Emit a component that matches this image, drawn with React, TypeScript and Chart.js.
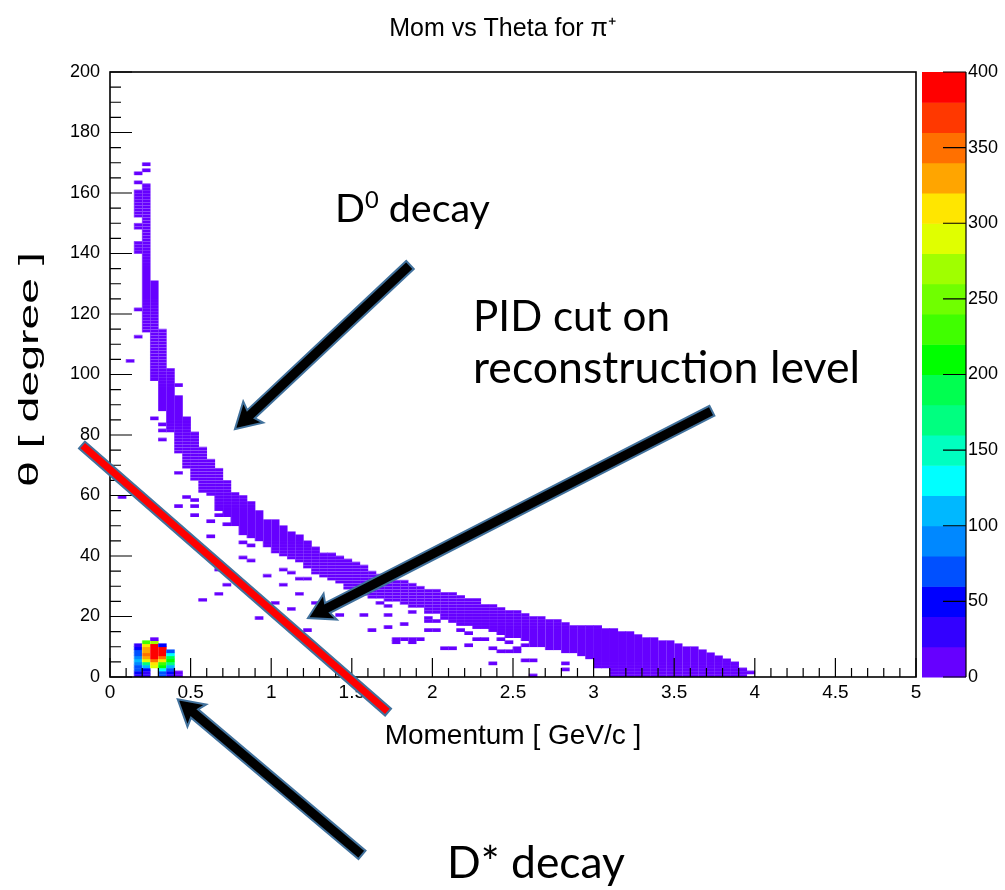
import React, { useEffect, useRef } from "react";
import { Chart, registerables } from "chart.js";

Chart.register(...registerables);

// ---------- text ----------
const chartTitle = "Mom vs Theta for π⁺";
const xTitle = "Momentum [ GeV/c ]";
const yTitle = "θ [ degree ]";

// ---------- axes ----------
const momentumTicks = [0, 0.5, 1, 1.5, 2, 2.5, 3, 3.5, 4, 4.5, 5];
const momentumTickLabels = ["0", "0.5", "1", "1.5", "2", "2.5", "3", "3.5", "4", "4.5", "5"];
const thetaTicks = [0, 20, 40, 60, 80, 100, 120, 140, 160, 180, 200];
const thetaTickLabels = ["0", "20", "40", "60", "80", "100", "120", "140", "160", "180", "200"];
const countTicks = [0, 50, 100, 150, 200, 250, 300, 350, 400];
const countTickLabels = ["0", "50", "100", "150", "200", "250", "300", "350", "400"];
const momentumBinWidth = 0.05;
const thetaBinWidth = 1;

// ---------- colour palette (contour levels of the z axis) ----------
const contourLevels = [0, 20, 40, 60, 80, 100, 120, 140, 160, 180, 200, 220, 240, 260, 280, 300, 320, 340, 360, 380, 400];
const palette = [
  "#6600ff", "#3300ff", "#0000ff", "#0050ff", "#0088ff", "#00b8ff", "#00ffff", "#00ffc0", "#00ff80", "#00ff50",
  "#00ff00", "#40ff00", "#70ff00", "#a0ff00", "#e0ff00", "#ffe600", "#ffa500", "#ff7000", "#ff3800", "#ff0000",
];

// ---------- main D0 band: per momentum bin, filled theta range ----------
const bandP = [
  0.175, 0.175, 0.175, 0.225, 0.275, 0.325, 0.375, 0.425, 0.475, 0.525,
  0.575, 0.625, 0.675, 0.725, 0.775, 0.825, 0.875, 0.925, 0.975, 1.025,
  1.075, 1.125, 1.175, 1.225, 1.275, 1.325, 1.375, 1.425, 1.475, 1.525,
  1.575, 1.625, 1.675, 1.725, 1.775, 1.825, 1.875, 1.925, 1.975, 2.025,
  2.075, 2.125, 2.175, 2.225, 2.275, 2.325, 2.375, 2.425, 2.475, 2.525,
  2.575, 2.625, 2.675, 2.725, 2.775, 2.825, 2.875, 2.925, 2.975, 3.025,
  3.075, 3.125, 3.175, 3.225, 3.275, 3.325, 3.375, 3.425, 3.475, 3.525,
  3.575, 3.625, 3.675, 3.725, 3.775, 3.825, 3.875, 3.925,
];
const bandThetaLow = [
  152, 148, 140, 114, 98, 88, 81, 74, 69, 65,
  61, 60, 55, 53, 50, 47, 46, 45, 43, 41,
  40, 39, 38, 36, 34, 33, 32, 31, 29, 27,
  27, 26, 26, 25, 25, 24, 23, 23, 21, 21,
  19, 18, 17, 17, 16, 16, 15, 14, 13, 13,
  12, 10, 10, 9, 9, 8, 8, 7, 6, 3,
  3, 0, 0, 0, 0, 0, 0, 0, 0, 0,
  0, 0, 0, 0, 0, 0, 0, 0,
];
const bandThetaHigh = [
  161, 150, 144, 163, 131, 115, 102, 93, 86, 81,
  76, 72, 69, 65, 61, 60, 58, 55, 52, 52,
  50, 48, 47, 45, 43, 41, 41, 40, 39, 38,
  37, 35, 34, 33, 32, 32, 31, 30, 29, 29,
  28, 28, 27, 26, 26, 24, 24, 23, 22, 22,
  21, 20, 20, 19, 19, 18, 17, 17, 17, 17,
  16, 16, 15, 15, 14, 13, 13, 12, 12, 11,
  10, 10, 9, 8, 7, 6, 5, 3,
];

// ---------- isolated single cells (PID-cut background) ----------
const strayP = [
  0.125, 0.175, 0.175, 0.225, 0.225, 0.175, 0.175, 0.275, 0.325, 0.325,
  0.325, 0.425, 0.425, 0.075, 0.475, 0.525, 0.425, 0.525, 0.525, 0.625,
  0.675, 0.725, 0.625, 0.825, 0.875, 0.825, 0.875, 0.675, 1.075, 1.125,
  0.975, 1.175, 1.225, 0.725, 1.075, 0.675, 1.175, 0.575, 1.025, 1.125,
  1.275, 1.425, 1.575, 1.725, 1.675, 0.925, 1.225, 1.625, 1.725, 1.775,
  1.775, 1.825, 1.875, 1.875, 1.925, 1.825, 1.875, 1.975, 1.975, 2.025,
  1.975, 2.075, 2.175, 2.225, 2.275, 2.325, 2.425, 2.475, 2.475, 2.525,
  2.525, 2.575, 2.375, 2.625, 2.625, 2.825, 2.825, 2.225, 2.375, 2.425,
  2.575, 1.725, 2.025, 2.125, 3.975,
];
const strayTheta = [
  104, 166, 163, 169, 167, 121, 112, 85, 83, 81,
  78, 96, 67, 59, 59, 58, 56, 56, 53, 51,
  53, 50, 46, 44, 43, 39, 38, 35, 35, 34,
  33, 32, 32, 30, 30, 27, 27, 25, 24, 22,
  24, 20, 20, 20, 24, 19, 15, 15, 16, 11,
  12, 12, 11, 12, 12, 17, 21, 19, 18, 18,
  15, 9, 15, 10, 12, 12, 12, 11, 8, 8,
  9, 10, 4, 5, 0, 4, 2, 14, 9, 8,
  5, 23, 15, 9, 1,
];

// ---------- D* cluster at low momentum (entries per cell) ----------
const clusterP = [
  0.175, 0.175, 0.175, 0.175, 0.175, 0.175, 0.175, 0.175, 0.175, 0.175, 0.175,
  0.225, 0.225, 0.225, 0.225, 0.225, 0.225, 0.225, 0.225, 0.225, 0.225, 0.225, 0.225,
  0.275, 0.275, 0.275, 0.275, 0.275, 0.275, 0.275, 0.275, 0.275, 0.275,
  0.325, 0.325, 0.325, 0.325, 0.325, 0.325, 0.325, 0.325, 0.325, 0.325, 0.325,
  0.375, 0.375, 0.375, 0.375, 0.375, 0.375, 0.375, 0.375, 0.375,
  0.425, 0.425,
];
const clusterTheta = [
  0, 1, 2, 3, 4, 5, 6, 7, 8, 9, 10,
  0, 1, 2, 3, 4, 5, 6, 7, 8, 9, 10, 11,
  3, 4, 5, 6, 7, 8, 9, 10, 11, 12,
  0, 1, 2, 3, 4, 5, 6, 7, 8, 9, 10,
  0, 1, 2, 3, 4, 5, 6, 7, 8,
  0, 1,
];
const clusterCount = [
  30, 55, 65, 70, 90, 100, 90, 75, 65, 55, 25,
  25, 25, 45, 110, 170, 290, 330, 345, 335, 325, 300, 220,
  280, 310, 340, 385, 390, 395, 390, 385, 260, 15,
  60, 75, 135, 200, 230, 305, 345, 385, 395, 385, 55,
  20, 40, 70, 100, 160, 210, 180, 130, 60,
  15, 10,
];

// ---------- slide annotations, in data coordinates (momentum, theta) ----------
const redCutLine = { p1: -0.174, t1: 76.7, p2: 1.725, t2: -11.6 };
const arrowD0 = { p1: 1.861, t1: 136.2, p2: 0.775, t2: 81.9 };
const arrowPID = { p1: 3.734, t1: 88.0, p2: 1.228, t2: 19.5 };
const arrowDStar = { p1: 1.563, t1: -58.8, p2: 0.42, t2: -7.4 };
const noteD0 = { p1: 1.396, p2: 2.357, t: 150.4 };
const notePID1 = { text: "PID cut on", p1: 2.252, p2: 3.474, t: 114.4 };
const notePID2 = { text: "reconstruction level", p1: 2.252, p2: 4.653, t: 97.2 };
const noteDStar = { text: "D* decay", p1: 2.091, p2: 3.195, t: -66.4 };

const rootFont = "'Liberation Sans', Arial, sans-serif";
const noteFont = "Lato, 'Open Sans', sans-serif";

function colorFor(count: number) {
  let idx = 0;
  for (let i = 0; i < palette.length; i++) if (count >= contourLevels[i]) idx = i;
  return palette[idx];
}

// cell texture: ROOT draws each histogram cell with a faint lighter seam
const patternCache: Record<string, CanvasPattern | null> = {};
function cellPattern(chart: any, color: string) {
  const xs = chart.scales.x, ys = chart.scales.y;
  if (!xs || !ys || !chart.chartArea) return color;
  const cw = xs.getPixelForValue(momentumBinWidth) - xs.getPixelForValue(0);
  const ch = ys.getPixelForValue(0) - ys.getPixelForValue(thetaBinWidth);
  const key = color + cw.toFixed(3) + ch.toFixed(3);
  if (patternCache[key] === undefined) {
    const tile = document.createElement("canvas");
    tile.width = 16;
    tile.height = 12;
    const t = tile.getContext("2d")!;
    t.fillStyle = color;
    t.fillRect(0, 0, 16, 12);
    t.fillStyle = "rgba(255,255,255,0.28)";
    t.fillRect(0, 0, 16, 2);
    t.fillStyle = "rgba(255,255,255,0.22)";
    t.fillRect(0, 2, 1, 10);
    const pat = chart.ctx.createPattern(tile, "repeat");
    if (pat) {
      const m = new DOMMatrix()
        .translate(xs.getPixelForValue(0), ys.getPixelForValue(0))
        .scale(cw / 16, ch / 12);
      pat.setTransform(m);
    }
    patternCache[key] = pat;
  }
  return patternCache[key] || color;
}

function drawArrow(ctx: CanvasRenderingContext2D, x1: number, y1: number, x2: number, y2: number) {
  const ang = Math.atan2(y2 - y1, x2 - x1);
  const len = Math.hypot(x2 - x1, y2 - y1);
  const shaft = 11, headW = 29, headL = 22;
  ctx.save();
  ctx.translate(x1, y1);
  ctx.rotate(ang);
  ctx.beginPath();
  ctx.moveTo(0, -shaft / 2);
  ctx.lineTo(len - headL, -shaft / 2);
  ctx.lineTo(len - headL - 3, -headW / 2);
  ctx.lineTo(len, 0);
  ctx.lineTo(len - headL - 3, headW / 2);
  ctx.lineTo(len - headL, shaft / 2);
  ctx.lineTo(0, shaft / 2);
  ctx.closePath();
  ctx.fillStyle = "#000";
  ctx.fill();
  ctx.lineWidth = 2;
  ctx.strokeStyle = "#41719c";
  ctx.lineJoin = "miter";
  ctx.stroke();
  ctx.restore();
}

function drawThickLine(ctx: CanvasRenderingContext2D, x1: number, y1: number, x2: number, y2: number) {
  const ang = Math.atan2(y2 - y1, x2 - x1);
  const len = Math.hypot(x2 - x1, y2 - y1);
  const w = 9;
  ctx.save();
  ctx.translate(x1, y1);
  ctx.rotate(ang);
  ctx.beginPath();
  ctx.rect(0, -w / 2, len, w);
  ctx.fillStyle = "#ff0000";
  ctx.fill();
  ctx.lineWidth = 2;
  ctx.strokeStyle = "#41719c";
  ctx.stroke();
  ctx.restore();
}

function fitText(ctx: CanvasRenderingContext2D, text: string, width: number, family: string) {
  ctx.font = `100px ${family}`;
  const w = ctx.measureText(text).width;
  return (100 * width) / w;
}

const decorPlugin = {
  id: "rootDecor",
  afterDatasetsDraw(chart: any) {
    const { ctx, chartArea: a, scales } = chart;
    const xs = scales.x, ys = scales.y, zs = scales.z;
    ctx.save();
    // colour bar
    const barL = a.right + 6, barR = a.right + 50;
    for (let i = 0; i < palette.length; i++) {
      const yA = zs.getPixelForValue(contourLevels[i]);
      const yB = zs.getPixelForValue(contourLevels[i + 1]);
      ctx.fillStyle = palette[i];
      ctx.fillRect(barL, yB, barR - barL, yA - yB + 0.5);
    }
    ctx.strokeStyle = "#000";
    ctx.lineWidth = 1.2;
    ctx.beginPath();
    ctx.moveTo(barR, a.top);
    ctx.lineTo(barR, a.bottom);
    for (const v of countTicks) {
      const y = zs.getPixelForValue(v);
      ctx.moveTo(barR - 23, y);
      ctx.lineTo(barR, y);
    }
    ctx.stroke();
    // frame
    ctx.lineWidth = 1.6;
    ctx.strokeRect(a.left, a.top, a.right - a.left, a.bottom - a.top);
    // axis ticks (inward)
    ctx.lineWidth = 1.2;
    ctx.beginPath();
    for (let k = 0; k <= 50; k++) {
      const x = xs.getPixelForValue(k / 10);
      const major = k % 5 === 0;
      ctx.moveTo(x, a.bottom);
      ctx.lineTo(x, a.bottom - (major ? 19 : 9));
    }
    for (let k = 0; k <= 40; k++) {
      const y = ys.getPixelForValue(k * 5);
      const major = k % 4 === 0;
      ctx.moveTo(a.left, y);
      ctx.lineTo(a.left + (major ? 22 : 11), y);
    }
    ctx.stroke();
    // y axis title
    ctx.save();
    ctx.translate(30, (a.top + a.bottom) / 2 - 5);
    ctx.rotate(-Math.PI / 2);
    ctx.font = `28px ${rootFont}`;
    const tw = ctx.measureText(yTitle).width;
    ctx.scale(235 / tw, 1);
    ctx.fillStyle = "#000";
    ctx.textAlign = "center";
    ctx.textBaseline = "middle";
    ctx.fillText(yTitle, 0, 0);
    ctx.restore();
    ctx.restore();
  },
  afterDraw(chart: any) {
    const { ctx, scales } = chart;
    const xs = scales.x, ys = scales.y;
    const X = (p: number) => xs.getPixelForValue(p);
    const Y = (t: number) => ys.getPixelForValue(t);
    ctx.save();
    drawThickLine(ctx, X(redCutLine.p1), Y(redCutLine.t1), X(redCutLine.p2), Y(redCutLine.t2));
    for (const ar of [arrowD0, arrowPID, arrowDStar]) drawArrow(ctx, X(ar.p1), Y(ar.t1), X(ar.p2), Y(ar.t2));
    ctx.fillStyle = "#000";
    ctx.textBaseline = "alphabetic";
    ctx.textAlign = "left";
    // D0 decay
    {
      const width = X(noteD0.p2) - X(noteD0.p1);
      ctx.font = `100px ${noteFont}`;
      const wD = ctx.measureText("D").width;
      const wRest = ctx.measureText(" decay").width;
      ctx.font = `60px ${noteFont}`;
      const w0 = ctx.measureText("0").width;
      const s = (100 * width) / (wD + w0 + wRest);
      let x = X(noteD0.p1);
      const y = Y(noteD0.t);
      ctx.font = `${s}px ${noteFont}`;
      ctx.fillText("D", x, y);
      x += ctx.measureText("D").width;
      ctx.font = `${s * 0.6}px ${noteFont}`;
      ctx.fillText("0", x, y - s * 0.36);
      x += ctx.measureText("0").width;
      ctx.font = `${s}px ${noteFont}`;
      ctx.fillText(" decay", x, y);
    }
    for (const n of [notePID1, notePID2, noteDStar]) {
      const size = fitText(ctx, n.text, X(n.p2) - X(n.p1), noteFont);
      ctx.font = `${size}px ${noteFont}`;
      ctx.fillText(n.text, X(n.p1), Y(n.t));
    }
    ctx.restore();
  },
};

export default function App() {
  const ref = useRef<HTMLCanvasElement | null>(null);
  useEffect(() => {
    if (!ref.current) return;
    const cellStyle = {
      type: "bar" as const,
      grouped: false,
      barPercentage: 1,
      categoryPercentage: 1,
      borderWidth: 0,
      borderSkipped: false,
    };
    const chart = new Chart(ref.current, {
      type: "bar",
      data: {
        datasets: [
          {
            ...cellStyle,
            label: "D0 band",
            data: bandP.map((p, i) => ({ x: p, y: [bandThetaLow[i], bandThetaHigh[i]] })) as any,
            backgroundColor: (c: any) => cellPattern(c.chart, palette[0]),
          },
          {
            ...cellStyle,
            label: "isolated",
            data: strayP.map((p, i) => ({ x: p, y: [strayTheta[i], strayTheta[i] + thetaBinWidth] })) as any,
            backgroundColor: (c: any) => cellPattern(c.chart, palette[0]),
          },
          {
            ...cellStyle,
            label: "D* cluster",
            data: clusterP.map((p, i) => ({ x: p, y: [clusterTheta[i], clusterTheta[i] + thetaBinWidth], c: clusterCount[i] })) as any,
            backgroundColor: (c: any) => cellPattern(c.chart, colorFor(c.raw ? c.raw.c : 0)),
          },
        ],
      },
      options: {
        responsive: false,
        animation: false,
        events: [],
        layout: { padding: { left: 0, right: 0, top: 0, bottom: 133 } },
        plugins: {
          legend: { display: false },
          tooltip: { enabled: false },
          title: {
            display: true,
            text: chartTitle,
            color: "#000",
            font: { family: rootFont, size: 25, weight: "normal" },
            padding: { top: 14, bottom: 28 },
          },
        },
        scales: {
          x: {
            type: "linear",
            min: 0,
            max: 5,
            offset: false,
            afterBuildTicks: (s: any) => { s.ticks = momentumTicks.map((v) => ({ value: v })); },
            afterFit: (s: any) => { s.height = 80; },
            ticks: {
              callback: (_v: any, i: number) => momentumTickLabels[i],
              autoSkip: false,
              maxRotation: 0,
              color: "#000",
              font: { family: rootFont, size: 19 },
              padding: 4,
            },
            grid: { display: false, drawTicks: false, offset: false },
            border: { display: false },
            title: { display: true, text: xTitle, color: "#000", font: { family: rootFont, size: 28 }, padding: { top: 0, bottom: 4 } },
          },
          y: {
            type: "linear",
            position: "left",
            min: 0,
            max: 200,
            afterBuildTicks: (s: any) => { s.ticks = thetaTicks.map((v) => ({ value: v })); },
            afterFit: (s: any) => { s.width = 110; },
            ticks: {
              callback: (_v: any, i: number) => thetaTickLabels[i],
              autoSkip: false,
              color: "#000",
              font: { family: rootFont, size: 18 },
              padding: 10,
            },
            grid: { display: false, drawTicks: false },
            border: { display: false },
          },
          z: {
            type: "linear",
            position: "right",
            min: 0,
            max: 400,
            afterBuildTicks: (s: any) => { s.ticks = countTicks.map((v) => ({ value: v })); },
            afterFit: (s: any) => { s.width = 89; },
            ticks: {
              callback: (_v: any, i: number) => countTickLabels[i],
              autoSkip: false,
              color: "#000",
              font: { family: rootFont, size: 18 },
              padding: 2,
            },
            grid: { drawOnChartArea: false, color: "rgba(0,0,0,0)", tickLength: 50, drawTicks: true },
            border: { display: false },
          },
        },
      } as any,
      plugins: [decorPlugin],
    });
    return () => chart.destroy();
  }, []);
  return (
    <div style={{ position: "absolute", left: 0, top: 0, width: 1005, height: 890, background: "#fff" }}>
      <canvas ref={ref} width={1005} height={890} style={{ display: "block" }} />
    </div>
  );
}
